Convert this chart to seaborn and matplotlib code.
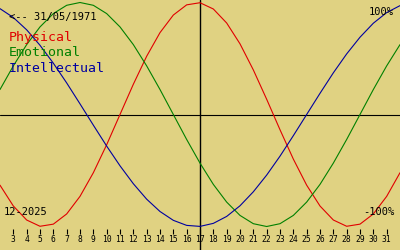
import matplotlib
matplotlib.use("Agg")
import matplotlib.pyplot as plt
import seaborn as sns
import pandas as pd

days = list(range(2, 33))
physical = [-0.631, -0.817, -0.942, -0.998, -0.979, -0.888, -0.731, -0.520, -0.270, 0.0,
            0.270, 0.520, 0.731, 0.888, 0.979, 0.998, 0.942, 0.817, 0.631, 0.398,
            0.136, -0.136, -0.398, -0.631, -0.817, -0.942, -0.998, -0.979, -0.888, -0.731,
            -0.520]
emotional = [0.223, 0.434, 0.624, 0.782, 0.901, 0.975, 1.0, 0.975, 0.901, 0.782,
             0.624, 0.434, 0.223, 0.0, -0.223, -0.434, -0.624, -0.782, -0.901, -0.975,
             -1.0, -0.975, -0.901, -0.782, -0.624, -0.434, -0.223, 0.0, 0.223, 0.434,
             0.624]
intellectual = [0.945, 0.866, 0.756, 0.618, 0.458, 0.282, 0.095, -0.095, -0.282, -0.458,
                -0.618, -0.756, -0.866, -0.945, -0.990, -0.999, -0.972, -0.910, -0.815, -0.690,
                -0.541, -0.372, -0.189, 0.0, 0.189, 0.372, 0.541, 0.690, 0.815, 0.910,
                0.972]
tick_days = list(range(3, 32))
today = 17
birth_label = "<-- 31/05/1971"
month_label = "12-2025"
series_names = ["Physical", "Emotional", "Intellectual"]
colors = {"Physical": "#e00000", "Emotional": "#008000", "Intellectual": "#0000a0"}

df = pd.concat([
    pd.DataFrame({"day": days, "value": physical, "series": "Physical"}),
    pd.DataFrame({"day": days, "value": emotional, "series": "Emotional"}),
    pd.DataFrame({"day": days, "value": intellectual, "series": "Intellectual"}),
])

sns.set_theme(style="white")
plt.rcParams['font.family'] = ['DejaVu Sans Mono', 'DejaVu Sans']

bg = "#e0d282"
fig = plt.figure(figsize=(4, 2.5), dpi=100, facecolor=bg)
ax = fig.add_axes([0, 0, 1, 1])
ax.set_facecolor(bg)

# pixel mapping: center y=114.5, amplitude 112
C, A = 114.5, 112.0
def v(py):
    return (C - py) / A

ax.set_xlim(2, 32)
ax.set_ylim(v(250), v(0))

ax.axhline(v(115), color="black", lw=0.8, zorder=1)
ax.axvline(today, color="black", lw=1.0, zorder=1)

sns.lineplot(data=df, x="day", y="value", hue="series", palette=colors,
             hue_order=series_names, legend=False, ax=ax, lw=0.8, zorder=3)

ax.vlines(tick_days, v(234), v(229), color="black", lw=0.8)
for d in tick_days:
    ax.text(d, v(239), str(d), ha="center", va="center", fontsize=5.8, color="black")

def T(px, py):
    return px / 400.0, 1 - py / 250.0

ax.text(*T(9, 17), birth_label, transform=ax.transAxes, ha="left", va="center",
        fontsize=7.5, color="black")
for name, py in zip(series_names, [38, 53, 68]):
    ax.text(*T(9, py), name, transform=ax.transAxes, ha="left", va="center",
            fontsize=9.5, color=colors[name])
ax.text(*T(4, 212), month_label, transform=ax.transAxes, ha="left", va="center",
        fontsize=7.5, color="black")
ax.text(*T(394, 12), "100%", transform=ax.transAxes, ha="right", va="center",
        fontsize=7.5, color="black")
ax.text(*T(394, 212), "-100%", transform=ax.transAxes, ha="right", va="center",
        fontsize=7.5, color="black")

ax.set_xlabel("")
ax.set_ylabel("")
ax.set_xticks([])
ax.set_yticks([])
for s in ax.spines.values():
    s.set_visible(False)

fig.savefig("out.png", dpi=100, facecolor=bg)
